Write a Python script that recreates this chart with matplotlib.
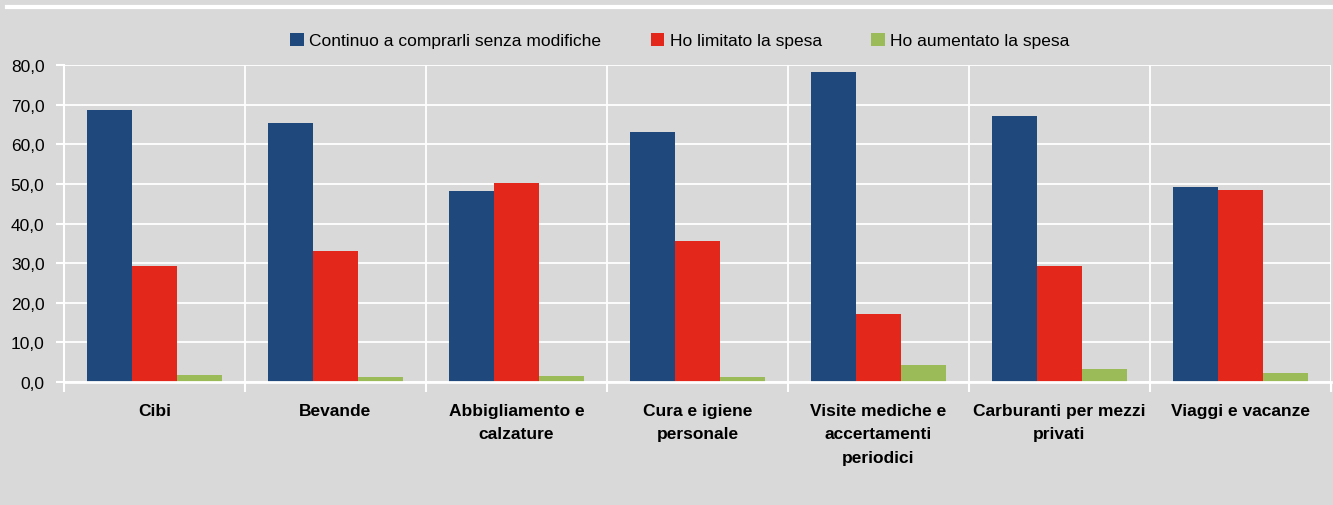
import matplotlib
matplotlib.use("Agg")
import matplotlib.pyplot as plt
import numpy as np

categories = ["Cibi", "Bevande", "Abbigliamento e\ncalzature", "Cura e igiene\npersonale",
              "Visite mediche e\naccertamenti\nperiodici", "Carburanti per mezzi\nprivati",
              "Viaggi e vacanze"]
series_names = ["Continuo a comprarli senza modifiche", "Ho limitato la spesa", "Ho aumentato la spesa"]
continuo = [68.7, 65.4, 48.2, 63.1, 78.3, 67.2, 49.2]
limitato = [29.3, 33.1, 50.3, 35.6, 17.2, 29.3, 48.5]
aumentato = [1.8, 1.3, 1.6, 1.3, 4.3, 3.3, 2.4]
colors = ["#1f497d", "#e3271a", "#9bbb59"]
yticks = [0, 10, 20, 30, 40, 50, 60, 70, 80]

plt.rcParams['font.family'] = ['Liberation Sans', 'DejaVu Sans']
bg = "#d9d9d9"
fig = plt.figure(figsize=(13.33, 5.06), dpi=100, facecolor=bg)
ax = fig.add_axes([0.048, 0.243, 0.9505, 0.6266], facecolor=bg)

x = np.arange(len(categories))
w = 0.25
for i, (vals, name) in enumerate(zip([continuo, limitato, aumentato], series_names)):
    ax.bar(x + (i - 1) * w, vals, width=w, color=colors[i], label=name, zorder=3)

ax.set_xlim(-0.5, len(categories) - 0.5)
ax.set_ylim(0, 80)
ax.set_yticks(yticks)
ax.set_yticklabels([f"{v:.1f}".replace(".", ",") for v in yticks], fontsize=12.5)
ax.set_xticks(x)
ax.set_xticklabels(categories, fontsize=12.5, fontweight='bold', linespacing=1.7, va='top')
ax.tick_params(axis='x', length=0, pad=15)
ax.tick_params(axis='y', length=6, color='white', width=1.5, pad=8)
ax.set_xticks(np.arange(len(categories) + 1) - 0.5, minor=True)
ax.tick_params(axis='x', which='minor', length=7, color='white', width=1.5)
ax.grid(axis='y', color='white', linewidth=1.3, zorder=0)
ax.grid(axis='x', which='minor', color='white', linewidth=1.3, zorder=0)
for s in ['top', 'right']:
    ax.spines[s].set_visible(False)
ax.spines['left'].set_color('white')
ax.spines['left'].set_linewidth(1.5)
ax.spines['bottom'].set_color('white')
ax.spines['bottom'].set_linewidth(2)
ax.spines['bottom'].set_zorder(4)

fig.legend(loc='center', bbox_to_anchor=(0.51, 0.918), ncol=3, frameon=False,
           fontsize=12.5, handlelength=0.8, handleheight=0.8, handletextpad=0.3,
           columnspacing=2.85)

fig.add_artist(plt.Line2D([0.005, 1.0], [0.984, 0.984], color='white', linewidth=3,
                          transform=fig.transFigure))

fig.savefig("out.png", dpi=100, facecolor=bg)
